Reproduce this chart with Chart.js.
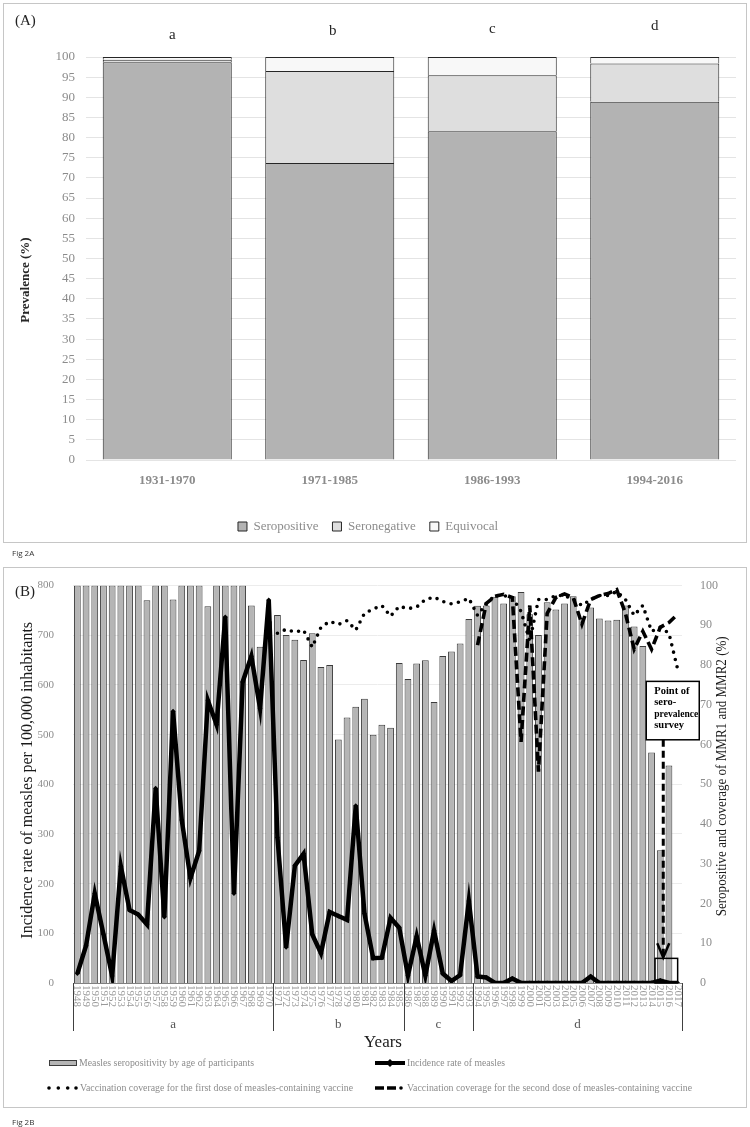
<!DOCTYPE html>
<html>
<head>
<meta charset="utf-8">
<script src="https://cdn.jsdelivr.net/npm/chart.js@4.4.1/dist/chart.umd.min.js"></script>
<style>
  body { margin: 0; background: #fff; width: 750px; height: 1127px; position: relative; overflow: hidden; font-family: 'Liberation Serif', 'Times New Roman', serif; }
  .quadro { position: absolute; border: 1.5px solid #c6c6c6; box-sizing: border-box; }
  .rotulo { position: absolute; font-size: 15px; color: #222; }
  .fig { position: absolute; font-family: 'Open Sans', 'DejaVu Sans', sans-serif; font-size: 8px; color: #333; }
  canvas { position: absolute; left: 0; }
</style>
</head>
<body>
<div class="quadro" style="left:3px;top:3px;width:744px;height:540px"></div>
<div class="quadro" style="left:3px;top:567px;width:744px;height:541px"></div>
<canvas id="graficoA" width="750" height="545" style="top:0"></canvas>
<canvas id="graficoB" width="750" height="567" style="top:560px"></canvas>
<div class="rotulo" style="left:15px;top:12px">(A)</div>
<div class="rotulo" style="left:15px;top:583px">(B)</div>
<div class="fig" style="left:12px;top:547px">Fig 2A</div>
<div class="fig" style="left:12px;top:1116px">Fig 2B</div>

<script>
// ---- dados do painel A (prevalência por período) ----
const periodos = ['1931-1970', '1971-1985', '1986-1993', '1994-2016'];
const grupos = ['a', 'b', 'c', 'd'];
const seropositivo = [98.7, 73.7, 81.6, 88.9];
const seronegativo = [0.6, 22.8, 13.9, 9.5];
const equivoco = [0.7, 3.5, 4.5, 1.6];

// ---- dados do painel B (por ano) ----
const anos = [
  '1948', '1949', '1950', '1951', '1952', '1953', '1954', '1955', '1956', '1957',
  '1958', '1959', '1960', '1961', '1962', '1963', '1964', '1965', '1966', '1967',
  '1968', '1969', '1970', '1971', '1972', '1973', '1974', '1975', '1976', '1977',
  '1978', '1979', '1980', '1981', '1982', '1983', '1984', '1985', '1986', '1987',
  '1988', '1989', '1990', '1991', '1992', '1993', '1994', '1995', '1996', '1997',
  '1998', '1999', '2000', '2001', '2002', '2003', '2004', '2005', '2006', '2007',
  '2008', '2009', '2010', '2011', '2012', '2013', '2014', '2015', '2016', '2017'
];
const soropositividade = [
  100, 100, 100, 100, 100, 100, 100, 100, 96.3, 100,
  100, 96.5, 100, 100, 100, 94.8, 100, 100, 100, 100,
  95.0, 84.6, 91.0, 92.6, 87.6, 86.4, 81.3, 88.0, 79.5, 80.0,
  61.3, 66.8, 69.5, 71.5, 62.5, 65.0, 64.2, 80.5, 76.5, 80.4,
  81.2, 70.7, 82.3, 83.4, 85.4, 91.6, 94.9, 95.0, 97.2, 95.5,
  97.3, 98.4, 92.8, 87.6, 95.8, 94.0, 95.5, 97.3, 91.7, 94.5,
  91.7, 91.2, 91.4, 95.0, 89.7, 84.8, 58.0, 33.4, 54.7, null
];
const incidencia = [
  19, 75, 180, 98, 14, 235, 147, 138, 118, 392,
  133, 547, 328, 211, 266, 569, 520, 737, 180, 606,
  658, 553, 771, 293, 72, 236, 260, 98, 60, 143,
  135, 127, 357, 140, 50, 51, 131, 111, 15, 94,
  15, 105, 19, 4, 16, 165, 13, 11, 0, 0,
  9, 0, 0, 0, 0, 0, 0, 0, 0, 13,
  0, 0, 0, 0, 0, 0, 0, 5, 0, 0
];
const cobMMR1 = [
  null, null, null, null, null, null, null, null, null, null,
  null, null, null, null, null, null, null, null, null, null,
  null, null, null, 88.0, 89.0, 88.3, 88.8, 84.5, 89.5, 91.0,
  90.2, 91.2, 88.8, 93.0, 94.1, 95.0, 92.3, 94.8, 94.2, 94.6,
  96.5, 97.1, 96.0, 95.4, 95.9, 96.8, 92.5, 95.5, 97.5, 97.5,
  97.0, 93.5, 86.0, 96.5, 96.5, 97.5, 97.5, 96.5, 95.0, 96.5,
  97.5, 97.5, 98.5, 96.5, 92.5, 95.0, 88.5, 89.5, 88.0, 79.0
];
const cobMMR2 = [
  null, null, null, null, null, null, null, null, null, null,
  null, null, null, null, null, null, null, null, null, null,
  null, null, null, null, null, null, null, null, null, null,
  null, null, null, null, null, null, null, null, null, null,
  null, null, null, null, null, null, 85.0, 95.5, 97.3, 97.8,
  97.0, 60.7, 95.0, 53.2, 93.0, 97.0, 97.9, 97.0, 90.3, 96.5,
  97.5, 98.0, 99.0, 93.0, 84.0, 88.5, 84.0, 89.5, 90.7, 92.8
];
const gruposB = ['a', 'b', 'c', 'd'];
const inicioGrupo = ['1948', '1971', '1986', '1994'];

const fonte = "'Liberation Serif', 'Times New Roman', serif";
const cinza = '#8c8c8c';

// letras a-d e titulo do eixo do painel A
const extrasA = {
  id: 'extrasA',
  afterDraw(chart) {
    const ctx = chart.ctx;
    const x = chart.scales.x;
    const desloc = [5, 3, 0, 0];
    const alt = [35, 31, 29, 26];
    ctx.save();
    ctx.font = '15px ' + fonte;
    ctx.fillStyle = '#262626';
    ctx.textAlign = 'center';
    ctx.textBaseline = 'middle';
    grupos.forEach((g, i) => ctx.fillText(g, x.getPixelForValue(i) + desloc[i], alt[i]));

    ctx.font = 'bold 13px ' + fonte;
    ctx.translate(26, 280);
    ctx.rotate(-Math.PI / 2);
    ctx.fillText('Prevalence (%)', 0, 0);
    ctx.restore();
  }
};

new Chart(document.getElementById('graficoA'), {
  type: 'bar',
  data: {
    labels: periodos,
    datasets: [
      { label: 'Seropositive', data: seropositivo, backgroundColor: '#b3b3b3', borderColor: '#262626', borderWidth: 1 },
      { label: 'Seronegative', data: seronegativo, backgroundColor: '#dedede', borderColor: '#262626', borderWidth: 1 },
      { label: 'Equivocal', data: equivoco, backgroundColor: '#f8f8f8', borderColor: '#262626', borderWidth: 1 }
    ]
  },
  options: {
    responsive: false,
    animation: false,
    layout: { padding: { top: 57, right: 14, bottom: 2, left: 0 } },
    datasets: { bar: { barPercentage: 0.794, categoryPercentage: 1 } },
    plugins: {
      tooltip: { enabled: false },
      legend: {
        position: 'bottom',
        labels: { boxWidth: 9, boxHeight: 9, padding: 14, color: cinza, font: { family: fonte, size: 13 } }
      }
    },
    scales: {
      x: {
        stacked: true,
        grid: { display: false },
        border: { display: false },
        ticks: { color: cinza, padding: 5, font: { family: fonte, size: 13, weight: 'bold' } },
        afterFit: s => { s.height = 46; }
      },
      y: {
        stacked: true,
        min: 0,
        max: 100,
        grid: { color: '#e4e4e4', drawTicks: false },
        border: { display: false },
        ticks: { stepSize: 5, color: cinza, padding: 11, font: { family: fonte, size: 13 } },
        afterFit: s => { s.width = 86; }
      }
    }
  },
  plugins: [extrasA]
});

// rótulos do eixo x, grupos, títulos, anotação e legenda do painel B
const extrasB = {
  id: 'extrasB',
  afterDraw(chart) {
    const { ctx, chartArea, scales: { x, y2 } } = chart;
    const larg = x.getPixelForValue(1) - x.getPixelForValue(0);
    const base = chartArea.bottom;
    ctx.save();

    // anos na vertical
    ctx.font = '11px ' + fonte;
    ctx.fillStyle = '#999';
    ctx.textAlign = 'left';
    ctx.textBaseline = 'middle';
    anos.forEach((a, i) => {
      ctx.save();
      ctx.translate(x.getPixelForValue(i), base + 2);
      ctx.rotate(Math.PI / 2);
      ctx.fillText(a, 0, 0, 24);
      ctx.restore();
    });

    // separadores e letras dos grupos
    const limites = inicioGrupo.map(a => x.getPixelForValue(anos.indexOf(a)) - larg / 2);
    limites.push(x.getPixelForValue(anos.length - 1) + larg / 2);
    ctx.strokeStyle = '#404040';
    ctx.lineWidth = 1;
    limites.forEach(px => {
      ctx.beginPath();
      ctx.moveTo(Math.round(px) + 0.5, base);
      ctx.lineTo(Math.round(px) + 0.5, base + 48);
      ctx.stroke();
    });
    ctx.font = '13px ' + fonte;
    ctx.fillStyle = '#555';
    ctx.textAlign = 'center';
    gruposB.forEach((g, i) => ctx.fillText(g, (limites[i] + limites[i + 1]) / 2, base + 42));

    // título do eixo x
    ctx.font = '17px ' + fonte;
    ctx.fillStyle = '#1a1a1a';
    ctx.fillText('Years', 383, base + 60);

    // títulos dos eixos y
    const meio = (chartArea.top + chartArea.bottom) / 2;
    ctx.save();
    ctx.font = '16px ' + fonte;
    ctx.translate(28, meio - 4);
    ctx.rotate(-Math.PI / 2);
    ctx.fillText('Incidence rate of measles per 100,000 inhabitants', 0, 0, 365);
    ctx.restore();
    ctx.save();
    ctx.font = '15px ' + fonte;
    ctx.translate(722, meio - 8);
    ctx.rotate(-Math.PI / 2);
    ctx.fillText('Seropositive and coverage of MMR1 and MMR2 (%)', 0, 0, 280);
    ctx.restore();

    // anotação do inquérito
    const i15 = anos.indexOf('2015');
    const xs = x.getPixelForValue(i15);
    const topo = y2.getPixelForValue(75.9);
    const fundo = y2.getPixelForValue(61.2);
    ctx.fillStyle = '#fff';
    ctx.fillRect(xs - 14, topo, 53, fundo - topo);
    ctx.strokeStyle = '#000';
    ctx.lineWidth = 1.5;
    ctx.strokeRect(xs - 14, topo, 53, fundo - topo);
    ctx.fillStyle = '#000';
    ctx.font = 'bold 10.5px ' + fonte;
    ctx.textAlign = 'left';
    ['Point of', 'sero-', 'prevalence', 'survey'].forEach((t, k) => ctx.fillText(t, xs - 6, topo + 10 + k * 11.4, 44));

    const xa = xs + 3;
    ctx.lineWidth = 3;
    ctx.setLineDash([7, 4]);
    ctx.beginPath();
    ctx.moveTo(xa, fundo);
    ctx.lineTo(xa, y2.getPixelForValue(7));
    ctx.stroke();
    ctx.setLineDash([]);
    ctx.lineWidth = 2.5;
    ctx.beginPath();
    ctx.moveTo(xa - 6, y2.getPixelForValue(10));
    ctx.lineTo(xa, y2.getPixelForValue(6.4));
    ctx.lineTo(xa + 6, y2.getPixelForValue(10));
    ctx.stroke();
    ctx.lineWidth = 1.5;
    const xr0 = xs - larg * 0.6;
    const xr1 = x.getPixelForValue(anos.indexOf('2016')) + larg;
    ctx.strokeRect(xr0, y2.getPixelForValue(6.2), xr1 - xr0, base - y2.getPixelForValue(6.2));

    // legenda
    const l1 = base + 80, l2 = base + 105;
    const c2 = 375;
    ctx.fillStyle = '#b5b5b5';
    ctx.fillRect(49, l1 - 2.5, 27, 5);
    ctx.strokeStyle = '#3c3c3c';
    ctx.lineWidth = 1;
    ctx.strokeRect(49.5, l1 - 2.5, 27, 5);

    ctx.strokeStyle = '#000';
    ctx.lineWidth = 4;
    ctx.beginPath();
    ctx.moveTo(c2, l1);
    ctx.lineTo(c2 + 30, l1);
    ctx.stroke();
    ctx.fillStyle = '#000';
    ctx.beginPath();
    ctx.moveTo(c2 + 15, l1 - 4);
    ctx.lineTo(c2 + 19, l1);
    ctx.lineTo(c2 + 15, l1 + 4);
    ctx.lineTo(c2 + 11, l1);
    ctx.closePath();
    ctx.fill();

    [49, 58.3, 67.7, 76].forEach(px => {
      ctx.beginPath();
      ctx.arc(px, l2, 1.8, 0, Math.PI * 2);
      ctx.fill();
    });
    ctx.lineWidth = 3.5;
    [[c2, c2 + 9], [c2 + 12, c2 + 21]].forEach(([a, b]) => {
      ctx.beginPath();
      ctx.moveTo(a, l2);
      ctx.lineTo(b, l2);
      ctx.stroke();
    });
    ctx.beginPath();
    ctx.arc(c2 + 26, l2, 1.8, 0, Math.PI * 2);
    ctx.fill();

    ctx.font = '11px ' + fonte;
    ctx.fillStyle = cinza;
    ctx.textAlign = 'left';
    ctx.fillText(chart.data.datasets[3].label, 79, l1, 175);
    ctx.fillText(chart.data.datasets[0].label, c2 + 32, l1, 98);
    ctx.fillText(chart.data.datasets[1].label, 80, l2, 273);
    ctx.fillText(chart.data.datasets[2].label, c2 + 32, l2, 285);
    ctx.restore();
  }
};

new Chart(document.getElementById('graficoB'), {
  data: {
    labels: anos,
    datasets: [
      {
        type: 'line', label: 'Incidence rate of measles', data: incidencia, yAxisID: 'y',
        borderColor: '#000', borderWidth: 4.5, tension: 0,
        pointStyle: 'rectRot', pointRadius: 2.5, pointBackgroundColor: '#000', pointBorderWidth: 0, order: 1
      },
      {
        type: 'line', label: 'Vaccination coverage for the first dose of measles-containing vaccine', data: cobMMR1, yAxisID: 'y2',
        borderColor: '#000', borderWidth: 3.6, borderDash: [0, 7.5], borderCapStyle: 'round', pointRadius: 0, order: 2
      },
      {
        type: 'line', label: 'Vaccination coverage for the second dose of measles-containing vaccine', data: cobMMR2, yAxisID: 'y2',
        borderColor: '#000', borderWidth: 3.6, borderDash: [9, 4.5], pointRadius: 0, order: 3
      },
      {
        type: 'bar', label: 'Measles seropositivity by age of participants', data: soropositividade, yAxisID: 'y2',
        backgroundColor: '#b5b5b5', borderColor: '#3c3c3c', borderWidth: 1,
        barPercentage: 0.78, categoryPercentage: 1, order: 4
      }
    ]
  },
  options: {
    responsive: false,
    animation: false,
    layout: { padding: { top: 21, right: 10, bottom: 74, left: 0 } },
    plugins: { legend: { display: false }, tooltip: { enabled: false } },
    scales: {
      x: {
        type: 'category',
        grid: { display: false },
        border: { display: true, color: '#808080' },
        ticks: { display: false },
        afterFit: s => { s.height = 70; }
      },
      y: {
        position: 'left',
        min: 0,
        max: 800,
        grid: { color: '#ececec', drawTicks: false },
        border: { display: false },
        ticks: { stepSize: 100, color: cinza, padding: 19, font: { family: fonte, size: 11 } },
        afterFit: s => { s.width = 73; }
      },
      y2: {
        position: 'right',
        min: 0,
        max: 100,
        grid: { display: false },
        border: { display: false },
        ticks: { stepSize: 10, color: cinza, padding: 10, font: { family: fonte, size: 12 } },
        afterFit: s => { s.width = 58; }
      }
    }
  },
  plugins: [extrasB]
});
</script>
</body>
</html>
